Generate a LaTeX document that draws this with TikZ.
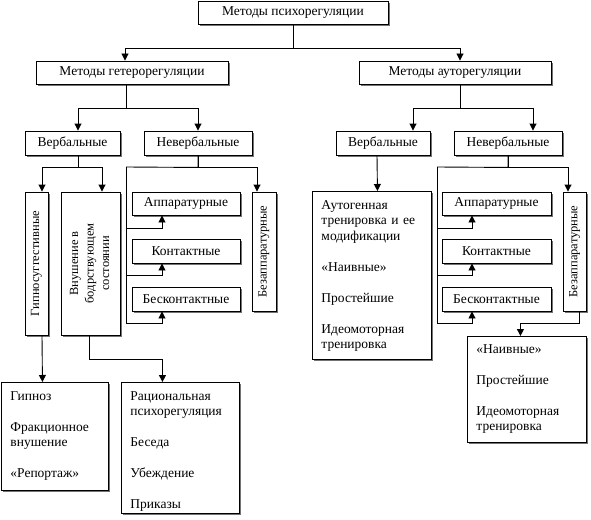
\documentclass[tikz,border=0pt]{standalone}
\usepackage{fontspec}
\setmainfont{Liberation Serif}
\usetikzlibrary{arrows.meta,shadows}

\begin{document}
\begin{tikzpicture}[x=1pt, y=-1pt, >={Triangle[width=7pt,length=7pt]}, line width=0.9pt,
    box/.style={draw, fill=white, inner sep=0pt, font=\fontsize{13.5}{15.5}\selectfont,
      drop shadow={shadow xshift=2pt, shadow yshift=-2pt, fill=black!55, opacity=1}},
    bar/.style={box, minimum height=23pt},
    upbox/.style={box, font=\fontsize{12.5}{15.5}\selectfont},
    listbox/.style={box, anchor=north west, align=left, inner xsep=9pt, inner ysep=0pt, text height=18pt}]
    \useasboundingbox (0,0) rectangle (591,519);

    % Top levels
    \node (top) at (293,12.5) [bar, minimum width=190pt] {Методы психорегуляции};
    \node (hetero) at (132,72.5) [bar, minimum width=192pt] {Методы гетерорегуляции};
    \node (auto) at (455,72.5) [bar, minimum width=192pt] {Методы ауторегуляции};
    \node (verbL) at (72.5,143) [bar, minimum width=95pt, minimum height=24pt] {Вербальные};
    \node (nonverbL) at (198,143) [bar, minimum width=108pt, minimum height=24pt] {Невербальные};
    \node (verbR) at (383,143) [bar, minimum width=94pt, minimum height=24pt] {Вербальные};
    \node (nonverbR) at (508,143) [bar, minimum width=108pt, minimum height=24pt] {Невербальные};

    % Heteroregulation, verbal
    \node (gipno) at (36.5,263.5) [upbox, minimum width=23pt, minimum height=143pt] {\rotatebox{90}{Гипносуггестивные}};
    \node (vnush) at (90.5,263.5) [upbox, minimum width=59pt, minimum height=143pt]
      {\rotatebox{90}{\begin{tabular}{@{}c@{}}Внушение в\\бодрствующем\\состоянии\end{tabular}}};
    \node (hypn) at (1,382) [listbox, text width=89pt, text depth=90pt]
      {Гипноз\\[15.5pt]Фракционное\\внушение\\[15.5pt]«Репортаж»};
    \node (rats) at (121,382) [listbox, text width=100pt, text depth=113pt]
      {Рациональная\\психорегуляция\\[15.5pt]Беседа\\[15.5pt]Убеждение\\[15.5pt]Приказы};

    % Heteroregulation, nonverbal
    \node (appL) at (186,203.5) [bar, minimum width=108pt] {Аппаратурные};
    \node (kontL) at (186,251) [bar, minimum width=108pt, minimum height=24pt] {Контактные};
    \node (bkontL) at (186,299) [bar, minimum width=108pt, minimum height=24pt] {Бесконтактные};
    \node (bezL) at (264,251.5) [upbox, minimum width=24pt, minimum height=119pt] {\rotatebox{90}{Безаппаратурные}};

    % Autoregulation
    \node (autog) at (312,191) [listbox, text width=101pt, text depth=150pt]
      {Аутогенная\\тренировка и ее\\модификации\\[15.5pt]«Наивные»\\[15.5pt]Простейшие\\[15.5pt]Идеомоторная\\тренировка};
    \node (appR) at (496.5,203.5) [bar, minimum width=109pt] {Аппаратурные};
    \node (kontR) at (496.5,251) [bar, minimum width=109pt, minimum height=24pt] {Контактные};
    \node (bkontR) at (496.5,299) [bar, minimum width=109pt, minimum height=24pt] {Бесконтактные};
    \node (bezR) at (574.5,251.5) [upbox, minimum width=23pt, minimum height=119pt] {\rotatebox{90}{Безаппаратурные}};
    \node (naivR) at (467,336) [listbox, text width=101pt, text height=17pt, text depth=89pt]
      {«Наивные»\\[15.5pt]Простейшие\\[15.5pt]Идеомоторная\\тренировка};

    % Connectors, top
    \draw[->] (top.south) -- ++(0,24) -| ([xshift=-7pt]hetero.north);
    \draw[->] (top.south) -- ++(0,24) -| ([xshift=5pt]auto.north);
    \draw[->] ([xshift=-6pt]hetero.south) -- ++(0,24) -| ([xshift=5.5pt]verbL.north);
    \draw[->] ([xshift=-6pt]hetero.south) -- ++(0,24) -| (nonverbL.north);
    \draw[->] ([xshift=5pt]auto.south) -- ++(0,24) -| ([xshift=30pt]verbR.north);
    \draw[->] ([xshift=5pt]auto.south) -- ++(0,24) -| ([xshift=25pt]nonverbR.north);

    % Connectors, left
    \draw[->] ([xshift=5.5pt]verbL.south) -- ++(0,12) -| ([xshift=5.5pt]gipno.north);
    \draw[->] ([xshift=5.5pt]verbL.south) -- ++(0,12) -| ([xshift=11.5pt]vnush.north);
    \draw[->] ([xshift=5.5pt]gipno.south) -- ([xshift=-12.5pt]hypn.north);
    \draw[->] ([xshift=-1.5pt]vnush.south) -- ++(0,24) -| ([xshift=-18pt]rats.north);
    \coordinate (brL) at (126,167);
    \draw[->] (nonverbL.south) -- ++(0,12) -| ([xshift=-7pt]bezL.north);
    \draw (nonverbL.south) -- ++(0,12) -- (brL);
    \draw[<-] ([xshift=-24pt]appL.south) -- ++(0,13) -| (brL);
    \draw[<-] ([xshift=-24pt]kontL.south) -- ++(0,12) -| (brL);
    \draw[<-] ([xshift=-24pt]bkontL.south) -- ++(0,12) -| (brL);

    % Connectors, right
    \draw[->] ([xshift=-6pt]verbR.south) -- ([xshift=5.5pt]autog.north);
    \coordinate (brR) at (437,167);
    \draw[->] (nonverbR.south) -- ++(0,12) -| ([xshift=-6.5pt]bezR.north);
    \draw (nonverbR.south) -- ++(0,12) -- (brR);
    \draw[<-] ([xshift=-24.5pt]appR.south) -- ++(0,13) -| (brR);
    \draw[<-] ([xshift=-24.5pt]kontR.south) -- ++(0,12) -| (brR);
    \draw[<-] ([xshift=-24.5pt]bkontR.south) -- ++(0,12) -| (brR);
    \draw[->] ([xshift=4.5pt]bezR.south) -- ++(0,12) -| ([xshift=-6.5pt]naivR.north);
\end{tikzpicture}
\end{document}
